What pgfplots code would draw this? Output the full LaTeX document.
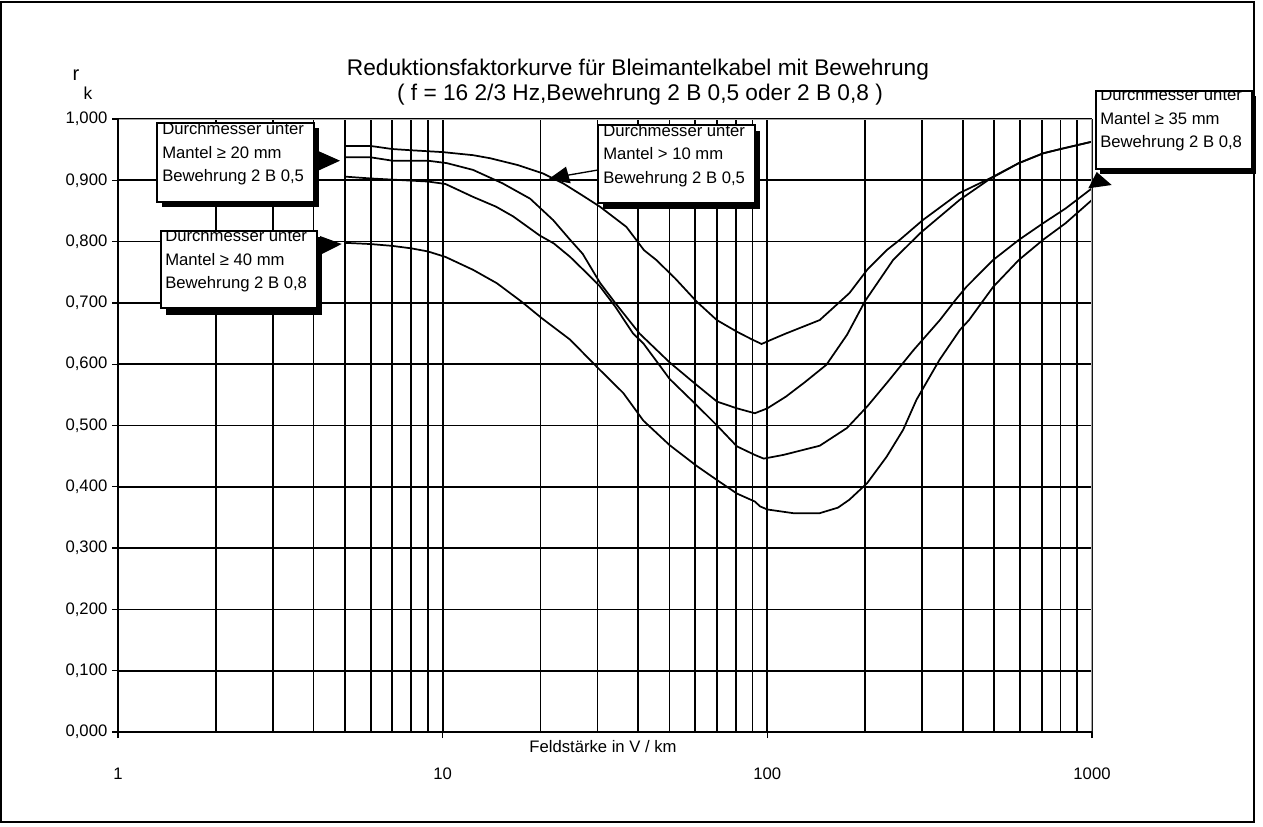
\documentclass[border=0pt]{standalone}
\usepackage{pgfplots}
\pgfplotsset{compat=1.18}
\usepackage{pgfplotstable}
\usepackage{fontspec}
\setmainfont{Liberation Sans}
\newcommand{\fs}[1]{\fontsize{#1}{#1}\selectfont}

% >10 mm, Bewehrung 2 B 0,5
\pgfplotstableread{
x y
5 0.956
6 0.956
7 0.951
8 0.949
10 0.946
12.4 0.941
14 0.936
17 0.925
20.4 0.911
23.5 0.895
27 0.875
30.5 0.857
36.8 0.824
41.7 0.786
45.5 0.770
52 0.740
60.6 0.702
69.9 0.672
80.6 0.653
90 0.640
96 0.633
105 0.642
114 0.650
145 0.672
179 0.716
203 0.754
233 0.786
256 0.803
301 0.835
390 0.879
484 0.903
595 0.928
707 0.944
800 0.951
1000 0.963
}\curveA

% >=20 mm, Bewehrung 2 B 0,5
\pgfplotstableread{
x y
5 0.9375
6 0.9375
7 0.932
9 0.932
10.3 0.928
12.4 0.917
15.3 0.895
18.6 0.870
21.9 0.835
24.5 0.805
27 0.780
30.5 0.733
34 0.700
40.4 0.650
50 0.603
60.6 0.566
70 0.539
80.6 0.528
91.5 0.520
100 0.528
114 0.547
130 0.570
152 0.599
176 0.648
200 0.703
244 0.770
296 0.814
391 0.868
484 0.902
595 0.928
707 0.944
800 0.951
1000 0.963
}\curveB

% >=35 mm, Bewehrung 2 B 0,8
\pgfplotstableread{
x y
5 0.906
6 0.903
9 0.898
10.2 0.894
12.4 0.873
14.6 0.857
16.5 0.841
19.9 0.810
22 0.797
24.7 0.775
27 0.755
30.5 0.727
34 0.694
38.6 0.650
41.5 0.634
50 0.576
60.6 0.533
70 0.500
80.6 0.466
91.5 0.452
97.5 0.446
112 0.452
145 0.467
176 0.496
203 0.531
233 0.569
282 0.623
340 0.672
380 0.705
410 0.726
496 0.770
596 0.803
707 0.830
829 0.854
1000 0.887
}\curveC

% >=40 mm, Bewehrung 2 B 0,8
\pgfplotstableread{
x y
5 0.798
6 0.796
7 0.793
8 0.789
9 0.784
10.2 0.775
12.4 0.754
14.7 0.732
17.5 0.702
20.2 0.675
24.7 0.640
29.8 0.596
36 0.553
41.5 0.508
50 0.468
60.6 0.434
70 0.411
80.6 0.389
91.5 0.376
95 0.368
100 0.363
120 0.357
145 0.357
165 0.366
179 0.379
203 0.406
233 0.449
262 0.493
288 0.542
339 0.607
392 0.656
418 0.672
464 0.705
496 0.726
595 0.770
707 0.803
829 0.830
1000 0.868
}\curveD

\begin{document}
\begin{tikzpicture}[x=0.75pt,y=-0.75pt]
\path[use as bounding box] (0,0) rectangle (1263,827);
\begin{axis}[
  at={(88.5pt,-549pt)}, anchor=south west,
  scale only axis, width=730.5pt, height=459.75pt,
  xmode=log, log basis x=10,
  xmin=1, xmax=1000, ymin=0, ymax=1,
  xtick={1,10,100,1000},
  xticklabels={\textrm{1},\textrm{10},\textrm{100},\textrm{1000}},
  minor xtick={2,3,4,5,6,7,8,9,20,30,40,50,60,70,80,90,200,300,400,500,600,700,800,900},
  ytick={0,0.1,0.2,0.3,0.4,0.5,0.6,0.7,0.8,0.9,1},
  yticklabels={\textrm{0,000},\textrm{0,100},\textrm{0,200},\textrm{0,300},\textrm{0,400},\textrm{0,500},\textrm{0,600},\textrm{0,700},\textrm{0,800},\textrm{0,900},\textrm{1,000}},
  xmajorgrids=true, xminorgrids=true, ymajorgrids=true,
  major grid style={black, line width=1.3pt},
  minor grid style={black, line width=1.3pt},
  axis line style={draw=none},
  tick align=outside,
  xtick pos=left, ytick pos=left,
  major tick length=4.5pt, minor tick length=0pt,
  tick style={black, line width=1pt},
  ticklabel style={font=\fs{12.5}},
  xticklabel style={yshift=-19pt},
  clip=true,
]
\addplot[black, line width=1.3pt] table[x=x,y=y]{\curveA};
\addplot[black, line width=1.3pt] table[x=x,y=y]{\curveB};
\addplot[black, line width=1.3pt] table[x=x,y=y]{\curveC};
\addplot[black, line width=1.3pt] table[x=x,y=y]{\curveD};
\draw[gray!70, line width=1.6pt] (rel axis cs:0,1) -- (rel axis cs:1,1) -- (rel axis cs:1,0);
\draw[black, line width=1.3pt] (rel axis cs:0,0) -- (rel axis cs:0,1);
\draw[black, line width=2.2pt] (rel axis cs:0,0) -- (rel axis cs:1,0);
\end{axis}

% outer frame
\draw[black, line width=1.5pt] (1,2) rectangle (1254,822);

% title and axis labels
\node[font=\fs{17}] at (638,70) {Reduktionsfaktorkurve für Bleimantelkabel mit Bewehrung};
\node[font=\fs{17}] at (640,95) {( f = 16 2/3 Hz,Bewehrung 2 B 0,5 oder 2 B 0,8 )};
\node[font=\fs{15}] at (76,75) {r};
\node[font=\fs{13}] at (88,93) {k};
\node[font=\fs{12.5}] at (603,747) {Feldstärke in V / km};

% callout 1
\fill[black] (316,150) -- (316,171.7) -- (340,160.7) -- cycle;
\fill[black] (161.5,128.5) rectangle (318.5,207.5);
\fill[white] (157,123) rectangle (314,202);
\begin{scope}
\clip (157,123) rectangle (314,202);
\node[anchor=base west, inner sep=0pt, font=\fs{12.5}] at (162,135) {Durchmesser unter};
\node[anchor=base west, inner sep=0pt, font=\fs{12.5}] at (162,158.3) {Mantel ≥ 20 mm};
\node[anchor=base west, inner sep=0pt, font=\fs{12.5}] at (162,181.7) {Bewehrung 2 B 0,5};
\end{scope}
\draw[black, line width=1pt] (157,123) rectangle (314,202);

% callout 2
\fill[black] (320,236) -- (320,255) -- (341.7,244) -- cycle;
\fill[black] (165.5,237) rectangle (321.8,314.5);
\fill[white] (161,231) rectangle (317,308);
\begin{scope}
\clip (161,231) rectangle (317,308);
\node[anchor=base west, inner sep=0pt, font=\fs{12.5}] at (165,242) {Durchmesser unter};
\node[anchor=base west, inner sep=0pt, font=\fs{12.5}] at (165,265.3) {Mantel ≥ 40 mm};
\node[anchor=base west, inner sep=0pt, font=\fs{12.5}] at (165,288.6) {Bewehrung 2 B 0,8};
\end{scope}
\draw[black, line width=1pt] (161,231) rectangle (317,308);

% callout 3
\draw[black, line width=1pt] (598,170) -- (566,175.5);
\fill[black] (548.3,179.3) -- (566,166.7) -- (570.7,183.3) -- cycle;
\fill[black] (602.5,131) rectangle (759.5,209.3);
\fill[white] (598,125) rectangle (755,203);
\begin{scope}
\clip (598,125) rectangle (755,203);
\node[anchor=base west, inner sep=0pt, font=\fs{12.5}] at (603,136.5) {Durchmesser unter};
\node[anchor=base west, inner sep=0pt, font=\fs{12.5}] at (603,159.8) {Mantel > 10 mm};
\node[anchor=base west, inner sep=0pt, font=\fs{12.5}] at (603,183.1) {Bewehrung 2 B 0,5};
\end{scope}
\draw[black, line width=1pt] (598,125) rectangle (755,203);

% callout 4
\fill[black] (1088.3,188.3) -- (1096.7,172) -- (1111.7,185) -- cycle;
\fill[black] (1100,96) rectangle (1256,174.5);
\fill[white] (1096,91) rectangle (1252,169);
\begin{scope}
\clip (1096,91) rectangle (1252,169);
\node[anchor=base west, inner sep=0pt, font=\fs{12.5}] at (1100,101) {Durchmesser unter};
\node[anchor=base west, inner sep=0pt, font=\fs{12.5}] at (1100,124.5) {Mantel ≥ 35 mm};
\node[anchor=base west, inner sep=0pt, font=\fs{12.5}] at (1100,148) {Bewehrung 2 B 0,8};
\end{scope}
\draw[black, line width=1pt] (1096,91) rectangle (1252,169);
\end{tikzpicture}
\end{document}
